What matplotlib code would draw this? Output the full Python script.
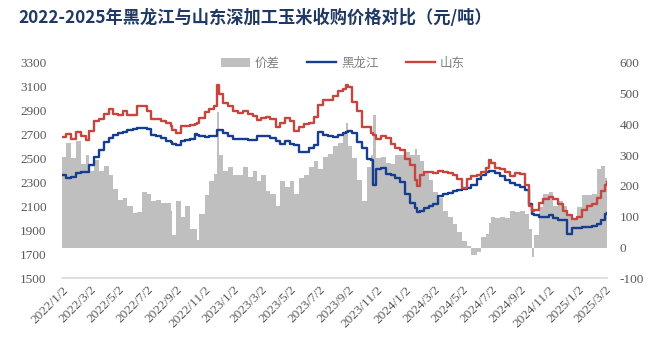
import matplotlib
matplotlib.use('Agg')
import matplotlib.pyplot as plt
import matplotlib.dates as mdates
from matplotlib.patches import Patch
from matplotlib.lines import Line2D
import pandas as pd

title = "2022-2025年黑龙江与山东深加工玉米收购价格对比（元/吨）"
series_names = ["价差", "黑龙江", "山东"]

dates = [
    "2022-01-02", "2022-01-11", "2022-01-21", "2022-02-01", "2022-02-11", "2022-02-21",
    "2022-03-01", "2022-03-11", "2022-03-21", "2022-04-01", "2022-04-11", "2022-04-21",
    "2022-05-01", "2022-05-11", "2022-05-21", "2022-06-01", "2022-06-11", "2022-06-21",
    "2022-07-01", "2022-07-11", "2022-07-21", "2022-08-01", "2022-08-11", "2022-08-21",
    "2022-08-24", "2022-09-01", "2022-09-11", "2022-09-21", "2022-10-01", "2022-10-11",
    "2022-10-16", "2022-10-21", "2022-11-01", "2022-11-11", "2022-11-21", "2022-11-27",
    "2022-12-01", "2022-12-11", "2022-12-21", "2023-01-01", "2023-01-11", "2023-01-21",
    "2023-02-01", "2023-02-11", "2023-02-21", "2023-03-01", "2023-03-11", "2023-03-21",
    "2023-04-01", "2023-04-11", "2023-04-21", "2023-05-01", "2023-05-11", "2023-05-21",
    "2023-06-01", "2023-06-11", "2023-06-21", "2023-07-01", "2023-07-11", "2023-07-21",
    "2023-08-01", "2023-08-11", "2023-08-21", "2023-08-28", "2023-09-01", "2023-09-11",
    "2023-09-21", "2023-10-01", "2023-10-11", "2023-10-21", "2023-10-24", "2023-11-01",
    "2023-11-11", "2023-11-21", "2023-12-01", "2023-12-11", "2023-12-21", "2024-01-01",
    "2024-01-11", "2024-01-21", "2024-01-26", "2024-02-01", "2024-02-11", "2024-02-21",
    "2024-03-01", "2024-03-11", "2024-03-21", "2024-04-01", "2024-04-11", "2024-04-21",
    "2024-05-01", "2024-05-11", "2024-05-21", "2024-06-01", "2024-06-11", "2024-06-21",
    "2024-06-28", "2024-07-01", "2024-07-11", "2024-07-21", "2024-08-01", "2024-08-11",
    "2024-08-21", "2024-09-01", "2024-09-11", "2024-09-21", "2024-09-27", "2024-10-01",
    "2024-10-11", "2024-10-21", "2024-11-01", "2024-11-11", "2024-11-21", "2024-12-01",
    "2024-12-11", "2024-12-21", "2025-01-01", "2025-01-11", "2025-01-21", "2025-02-01",
    "2025-02-11", "2025-02-21", "2025-03-01", "2025-03-05",
]

shandong = [
    2680, 2705, 2660, 2725, 2690, 2657,
    2730, 2810, 2830, 2870, 2910, 2870,
    2865, 2900, 2865, 2865, 2935, 2940,
    2895, 2830, 2830, 2810, 2800, 2770,
    2740, 2710, 2770, 2770, 2780, 2790,
    2800, 2840, 2890, 2910, 2935, 3115,
    3040, 2960, 2935, 2900, 2880, 2900,
    2870, 2855, 2825, 2840, 2845, 2830,
    2760, 2800, 2840, 2810, 2730, 2760,
    2790, 2800, 2850, 2950, 2985, 2990,
    3025, 3060, 3080, 3115, 3100, 2970,
    2895, 2760, 2765, 2710, 2700, 2660,
    2685, 2670, 2620, 2590, 2575, 2500,
    2450, 2320, 2270, 2360, 2390, 2385,
    2380, 2395, 2385, 2375, 2365, 2330,
    2255, 2330, 2350, 2365, 2385, 2420,
    2490, 2460, 2425, 2415, 2385, 2350,
    2380, 2370, 2280, 2100, 2060, 2070,
    2125, 2160, 2180, 2160, 2120, 2060,
    2030, 1995, 2010, 2070, 2100, 2120,
    2170, 2230, 2280, 2300,
]

heilongjiang = [
    2365, 2340, 2345, 2380, 2385, 2390,
    2450, 2510, 2570, 2640, 2675, 2700,
    2715, 2725, 2735, 2750, 2755, 2755,
    2745, 2700, 2690, 2670, 2650, 2640,
    2625, 2615, 2650, 2655, 2660, 2705,
    2700, 2690, 2680, 2685, 2685, 2735,
    2735, 2715, 2690, 2665, 2660, 2660,
    2655, 2655, 2685, 2690, 2690, 2670,
    2650, 2620, 2645, 2625, 2615, 2555,
    2555, 2590, 2610, 2720, 2700, 2685,
    2680, 2700, 2715, 2725, 2730, 2715,
    2640, 2590, 2500, 2490, 2280, 2410,
    2420, 2370, 2365, 2340, 2300, 2200,
    2130, 2085, 2055, 2060, 2090, 2100,
    2120, 2190, 2205, 2215, 2225, 2240,
    2245, 2255, 2280, 2330, 2360, 2390,
    2395, 2395, 2380, 2355, 2320, 2295,
    2280, 2260, 2240, 2120, 2040, 2030,
    2015, 2015, 2030, 2000, 1990, 1985,
    1870, 1922, 1922, 1925, 1930, 1935,
    1950, 1990, 2040, 2045,
]

spread = [
    295, 340, 290, 345, 270, 300,
    250, 285, 250, 265, 235, 190,
    155, 160, 135, 111, 115, 180,
    175, 150, 155, 145, 143, 120,
    40, 150, 100, 135, 60, 60,
    25, 110, 170, 215, 240, 441,
    300, 250, 260, 235, 235, 262,
    230, 250, 215, 235, 185, 175,
    135, 215, 195, 215, 175, 225,
    235, 260, 280, 255, 295, 305,
    330, 340, 370, 405, 330, 290,
    220, 150, 262, 300, 430, 290,
    295, 275, 270, 300, 300, 310,
    300, 320, 300, 280, 250, 220,
    180, 160, 120, 100, 75, 50,
    20, 5, -25, -15, 35, 45,
    80, 100, 95, 100, 95, 120,
    115, 120, 110, 60, -30, 40,
    130, 175, 180, 135, 150, 135,
    110, 90, 130, 170, 170, 175,
    255, 265, 225, 215,
]

tick_dates = [
    "2022-01-02", "2022-03-02", "2022-05-02", "2022-07-02", "2022-09-02", "2022-11-02",
    "2023-01-02", "2023-03-02", "2023-05-02", "2023-07-02", "2023-09-02", "2023-11-02",
    "2024-01-02", "2024-03-02", "2024-05-02", "2024-07-02", "2024-09-02", "2024-11-02",
    "2025-01-02", "2025-03-02",
]
tick_labels = [
    "2022/1/2", "2022/3/2", "2022/5/2", "2022/7/2", "2022/9/2", "2022/11/2",
    "2023/1/2", "2023/3/2", "2023/5/2", "2023/7/2", "2023/9/2", "2023/11/2",
    "2024/1/2", "2024/3/2", "2024/5/2", "2024/7/2", "2024/9/2", "2024/11/2",
    "2025/1/2", "2025/3/2",
]
left_ticks = [1500, 1700, 1900, 2100, 2300, 2500, 2700, 2900, 3100, 3300]
right_ticks = [-100, 0, 100, 200, 300, 400, 500, 600]

CJK = ['Noto Sans CJK SC', 'DejaVu Sans']
SERIF = 'Liberation Serif'
GREY_TXT = '#595959'
C_GREY = '#BFBFBF'
C_BLUE = '#173E8E'
C_RED = '#C8453E'

d = pd.to_datetime(dates)
td = pd.to_datetime(tick_dates)

W, H = 660, 352
fig = plt.figure(figsize=(W / 100, H / 100), dpi=100)
x0, x1, ytop, ybot = 62, 607, 62.7, 278.3
ax = fig.add_axes([x0 / W, 1 - ybot / H, (x1 - x0) / W, (ybot - ytop) / H])
ax2 = ax.twinx()
ax.set_zorder(ax2.get_zorder() + 1)
ax.patch.set_visible(False)

ax2.fill_between(d, spread, 0, step='post', color=C_GREY, lw=0)
ax.plot(d, heilongjiang, drawstyle='steps-post', color=C_BLUE, lw=1.7)
ax.plot(d, shandong, drawstyle='steps-post', color=C_RED, lw=1.7)

ax.set_xlim(pd.Timestamp("2022-01-02"), pd.Timestamp("2025-03-05"))
ax.set_ylim(1500, 3300)
ax2.set_ylim(-100, 600)
ax.set_yticks(left_ticks)
ax2.set_yticks(right_ticks)
ax.set_yticklabels([str(v) for v in left_ticks], family=SERIF, fontsize=9.5, color=GREY_TXT)
ax2.set_yticklabels([str(v) for v in right_ticks], family=SERIF, fontsize=9.5, color=GREY_TXT)
ax.set_xticks(td)
ax.set_xticklabels(tick_labels, family=SERIF, fontsize=9.5, color=GREY_TXT,
                   rotation=45, ha='right', va='top', rotation_mode='anchor')
ax.tick_params(axis='y', length=0, pad=11)
ax2.tick_params(axis='y', length=0, pad=9)
ax.tick_params(axis='x', length=0, pad=4)

for a in (ax, ax2):
    for s in a.spines.values():
        s.set_visible(False)
ax.spines['bottom'].set_visible(True)
ax.spines['bottom'].set_color('#D9D9D9')
ax.spines['bottom'].set_linewidth(1.2)

handles = [Patch(facecolor=C_GREY, edgecolor='none'),
           Line2D([0], [0], color=C_BLUE, lw=1.7),
           Line2D([0], [0], color=C_RED, lw=1.7)]
fig.legend(handles, series_names, loc='center', bbox_to_anchor=(343 / W, 1 - 63 / H),
           ncol=3, frameon=False, prop={'family': CJK, 'size': 9},
           labelcolor='#808080', handlelength=2.3, handletextpad=0.4, columnspacing=2.2)

fig.text(18 / W, 1 - 18 / H, title, fontsize=12.4, fontweight='bold', color='#1F3864',
         va='center', ha='left', family=CJK)

fig.savefig('out.png', dpi=100)
